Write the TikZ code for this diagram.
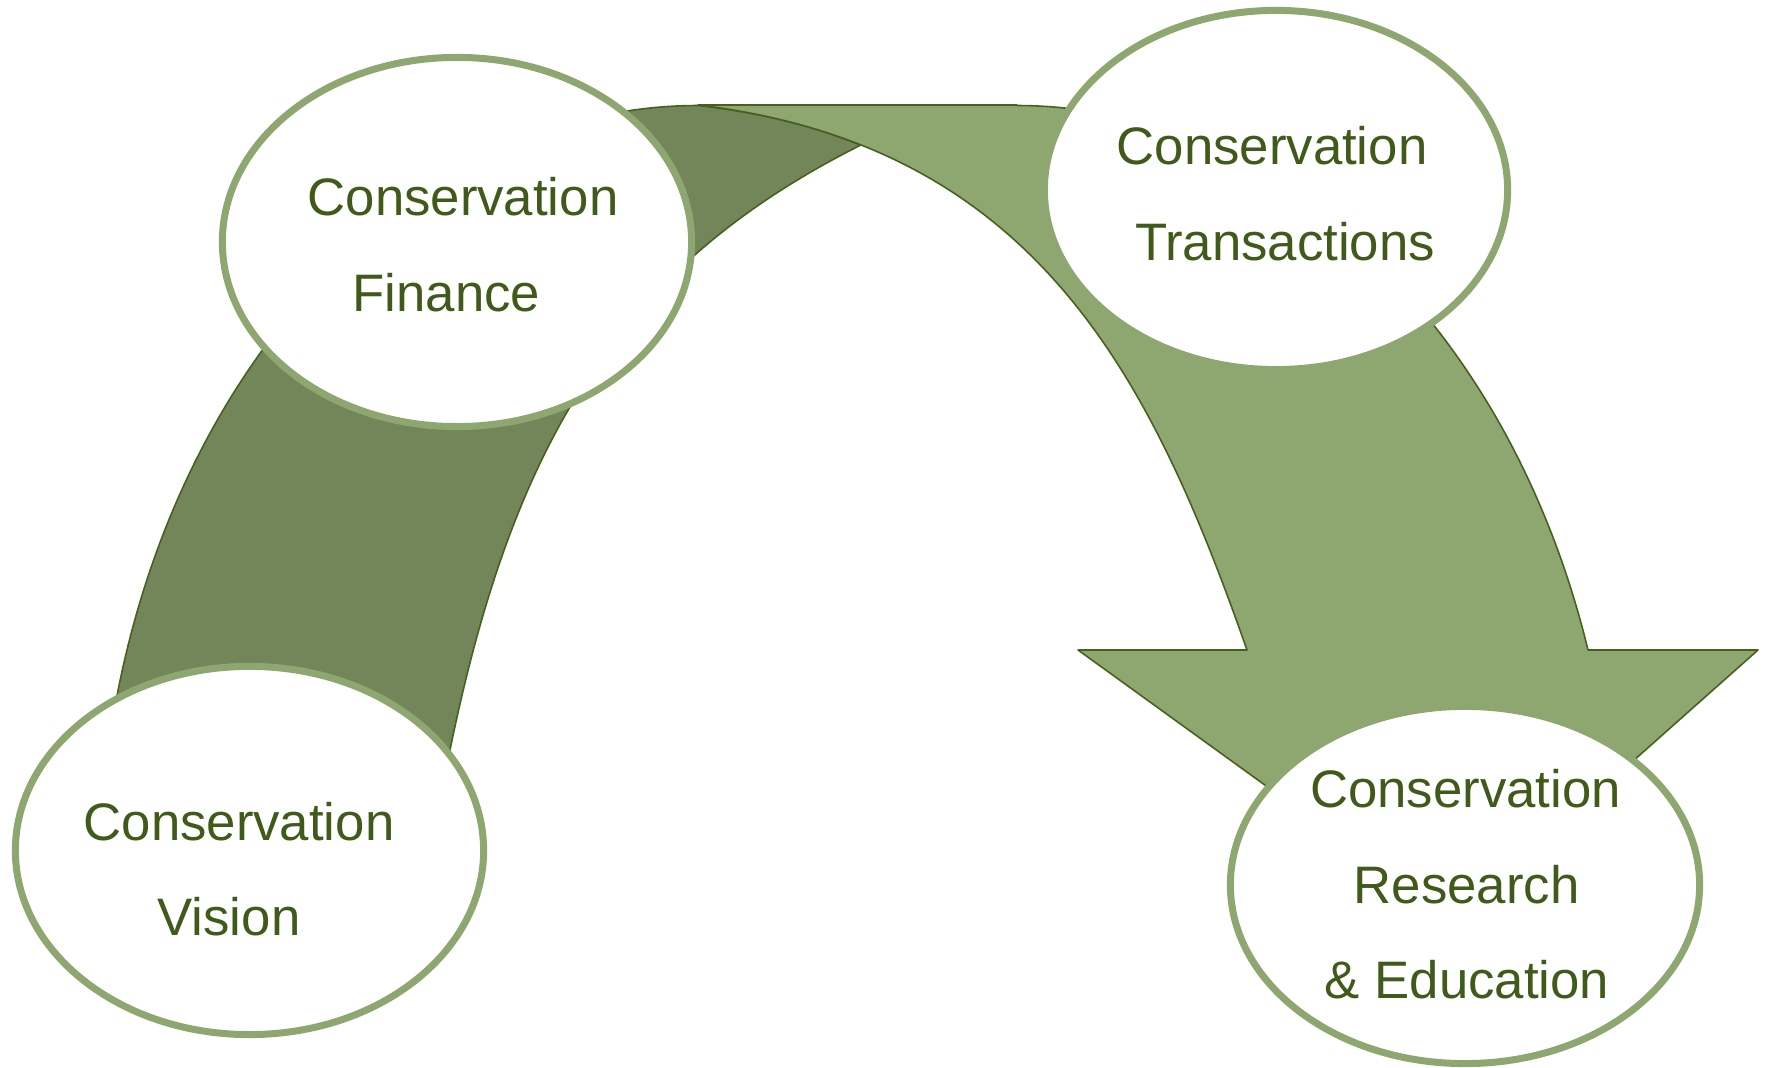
\documentclass[tikz,border=0pt]{standalone}
\usepackage{fontspec}
\setmainfont{Liberation Sans}
\usetikzlibrary{shapes.geometric}
\definecolor{lightolive}{RGB}{142,167,112}
\definecolor{darkolive}{RGB}{114,134,90}
\definecolor{edgegreen}{RGB}{72,96,30}
\definecolor{textgreen}{RGB}{64,90,26}
\begin{document}
\begin{tikzpicture}[x=0.01cm,y=-0.01cm,
  bubble/.style={ellipse, draw=lightolive, fill=white, line width=0.07cm, inner sep=0pt},
  txt/.style={anchor=base, text=textgreen, font=\fontsize{15}{18}\selectfont, inner sep=0pt},
  band/.style={draw=edgegreen, line width=0.45pt, line join=round}]
\useasboundingbox (0,0) rectangle (1767,1068);

% corner points of the two arrow bands
\coordinate (dtop) at (698,105.5);
\coordinate (cross) at (860.7,145.1);
\coordinate (dbot) at (445,775);
\coordinate (ltop) at (698,105);
\coordinate (lbend) at (1017,105);
\coordinate (rshoulder) at (1588,650);
\coordinate (rbarb) at (1758,650);
\coordinate (tip) at (1453,921);
\coordinate (lbarb) at (1078,650);
\coordinate (lshoulder) at (1247,650);

% dark band (Vision -> Finance -> top)
\path[band, fill=darkolive]
  plot[domain=169:90, samples=80, variable=\t] ({698+599*cos(\t)}, {885.5-780*sin(\t)})
  .. controls (759.2,112.3) and (812.9,126) .. (cross)
  .. controls (612,270) and (507.7,451.6) .. (dbot)
  -- cycle;

% light arrow (top -> Research)
\path[band, fill=lightolive]
  (ltop) -- (lbend)
  -- plot[domain=90:17.57, samples=80, variable=\t] ({1017+599*cos(\t)}, {885.5-780*sin(\t)})
  -- (rbarb) -- (tip) -- (lbarb) -- (lshoulder)
  .. controls (1152,380) and (1038,145.8) .. (ltop)
  -- cycle;

% ellipses
\node[bubble, minimum width=4.69cm, minimum height=3.69cm] (fin) at (457,242) {};
\node[bubble, minimum width=4.63cm, minimum height=3.59cm] (tra) at (1276,190) {};
\node[bubble, minimum width=4.68cm, minimum height=3.68cm] (vis) at (249.5,850.5) {};
\node[bubble, minimum width=4.69cm, minimum height=3.57cm] (res) at (1465,885) {};

% texts
\node[txt] (f1) at (463,216) {Conservation};
\node[txt] (f2) at (446.5,312) {Finance};
\node[txt] (t1) at (1272,165) {Conservation};
\node[txt] (t2) at (1285,261) {Transactions};
\node[txt] (v1) at (239,841) {Conservation};
\node[txt] (v2) at (229,936) {Vision};
\node[txt] (r1) at (1465.5,808) {Conservation};
\node[txt] (r2) at (1466.7,904) {Research};
\node[txt] (r3) at (1467,999) {\& Education};
\end{tikzpicture}
\end{document}
